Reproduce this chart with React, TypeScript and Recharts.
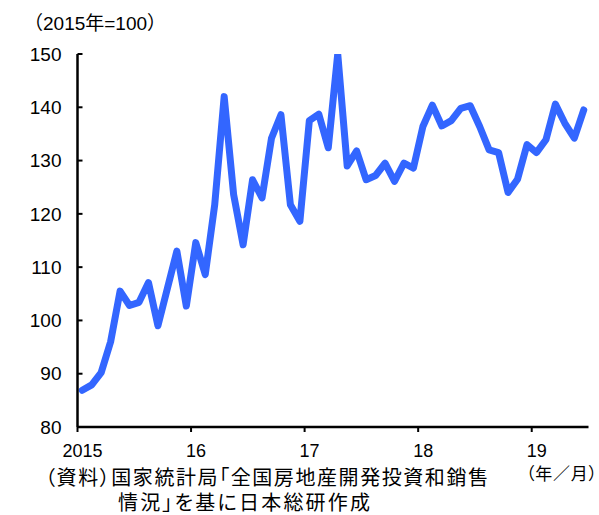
import { LineChart, Line, XAxis, YAxis } from 'recharts'

// monthly index, 2015/1 - 2019/6 (2015 = 100)
const START_YEAR = 2015
const salesIndex = [
  86.9, 87.9, 90.2, 96.0, 105.5, 102.8, 103.4, 107.1, 99.0, 106.0, 113.0, 102.7,
  114.6, 108.6, 121.7, 142.0, 123.6, 114.2, 126.4, 123.0, 134.2, 138.6, 121.7, 118.6,
  137.5, 138.7, 132.4, 150.0, 129.0, 131.8, 126.4, 127.2, 129.5, 126.1, 129.5, 128.6,
  136.4, 140.4, 136.5, 137.5, 139.8, 140.3, 136.4, 132.0, 131.5, 124.0, 126.5, 133.0,
  131.5, 133.9, 140.6, 137.0, 134.2, 139.5,
]
const yearLabels = ['2015', '16', '17', '18', '19']
const yTicks = [80, 90, 100, 110, 120, 130, 140, 150]

const unitLabel = '（2015年=100）'
const periodLabel = '（年／月）'
const sourceLines = ['（資料）国家統計局「全国房地産開発投資和銷售', '情況」を基に日本総研作成']

// each month sits in the middle of its slot, year ticks on the slot boundaries
const rows = salesIndex.map((v, i) => ({
  pos: i + 0.5,
  month: `${START_YEAR + Math.floor(i / 12)}/${(i % 12) + 1}`,
  value: v,
}))
const xTicks = yearLabels.map((_, i) => i * 12)

const NUM_FONT = "'Liberation Sans', Arial, 'Noto Sans CJK JP', sans-serif"
const JP_FONT = "'Noto Sans CJK JP', sans-serif"
// proportional brackets/kana so the notes don't get wide gaps
const jpStyle = { fontFeatureSettings: '"palt"' }

export default function App() {
  return (
    <div style={{ position: 'absolute', left: 0, top: 0, width: 599, height: 515, background: '#fff' }}>
      <LineChart width={599} height={515} data={rows} margin={{ top: 54, right: 10.5, bottom: 0, left: 0 }}>
        <XAxis
          type="number"
          dataKey="pos"
          domain={[0, salesIndex.length]}
          ticks={xTicks}
          tickFormatter={(v: number) => yearLabels[v / 12]}
          height={88}
          tickSize={5}
          tickMargin={12}
          axisLine={{ stroke: '#000', strokeWidth: 2.5 }}
          tickLine={{ stroke: '#000', strokeWidth: 2 }}
          tick={{ fontSize: 18, fill: '#000', fontFamily: NUM_FONT, dx: 5 }}
        />
        <YAxis
          type="number"
          domain={[80, 150]}
          ticks={yTicks}
          allowDataOverflow
          width={77.5}
          tickSize={-5}
          tickMargin={21}
          axisLine={{ stroke: '#000', strokeWidth: 2.5 }}
          tickLine={{ stroke: '#000', strokeWidth: 2 }}
          tick={{ fontSize: 19, fill: '#000', fontFamily: NUM_FONT }}
        />
        <Line
          type="linear"
          dataKey="value"
          stroke="#3366ff"
          strokeWidth={7}
          strokeLinejoin="round"
          strokeLinecap="round"
          dot={false}
          isAnimationActive={false}
        />
      </LineChart>
      <svg width={599} height={515} style={{ position: 'absolute', left: 0, top: 0, pointerEvents: 'none' }}>
        <text x={24} y={30} fontSize={19} fontFamily={NUM_FONT} fill="#000">{unitLabel}</text>
        <text x={526} y={480} fontSize={17} fontFamily={JP_FONT} fill="#000" style={jpStyle} textLength={71} lengthAdjust="spacing">{periodLabel}</text>
        <text x={45} y={485} fontSize={20} fontFamily={JP_FONT} fill="#000" style={jpStyle} textLength={443} lengthAdjust="spacing">{sourceLines[0]}</text>
        <text x={118} y={510} fontSize={20} fontFamily={JP_FONT} fill="#000" style={jpStyle} textLength={252} lengthAdjust="spacing">{sourceLines[1]}</text>
      </svg>
    </div>
  )
}
